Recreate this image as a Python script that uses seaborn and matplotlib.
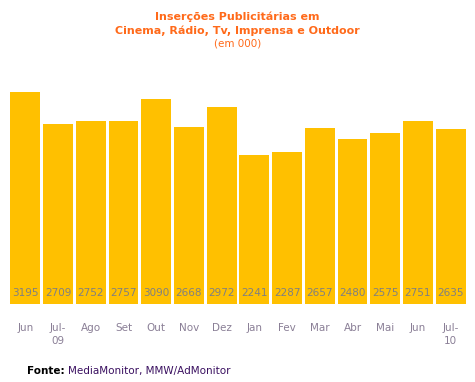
import numpy as np
import pandas as pd
import matplotlib
matplotlib.use('Agg')
import matplotlib.pyplot as plt
import seaborn as sns

# Données
meses = ['Jun', 'Jul-\n09', 'Ago', 'Set', 'Out', 'Nov', 'Dez', 'Jan', 'Fev', 'Mar', 'Abr', 'Mai', 'Jun', 'Jul-\n10']
insercoes = [3195, 2709, 2752, 2757, 3090, 2668, 2972, 2241, 2287, 2657, 2480, 2575, 2751, 2635]

df = pd.DataFrame({'pos': range(len(meses)), 'valor': insercoes})

sns.set_theme(style='white')
plt.rcParams['font.family'] = ['DejaVu Sans']

fig = plt.figure(figsize=(4.75, 3.82), dpi=100)
ax = fig.add_axes([9 / 475, 1 - 304 / 382, 458 / 475, 224 / 382])

sns.barplot(data=df, x='pos', y='valor', color='#FFC000', saturation=1,
            width=0.91, linewidth=0, ax=ax)

for i, v in enumerate(insercoes):
    ax.text(i, 3195 * 11 / 212, str(v), ha='center', va='center',
            fontsize=7.5, color='#808080')

ax.set_ylim(0, 3195 * 224 / 212)
ax.set_xlim(-0.5, len(meses) - 0.5)
ax.set_yticks([])
ax.set_xticks(range(len(meses)))
ax.set_xticklabels(meses, fontsize=7.5, color='#8a7f96', linespacing=1.3)
ax.tick_params(axis='x', length=0, pad=14)
ax.set_xlabel('')
ax.set_ylabel('')
for s in ax.spines.values():
    s.set_visible(False)

# Titre
fig.text(0.5, 1 - 17 / 382, 'Inserções Publicitárias em', ha='center', va='center',
         fontsize=8, fontweight='bold', color='#FF6A1A')
fig.text(0.5, 1 - 31 / 382, 'Cinema, Rádio, Tv, Imprensa e Outdoor', ha='center', va='center',
         fontsize=8, fontweight='bold', color='#FF6A1A')
fig.text(0.5, 1 - 44 / 382, '(em 000)', ha='center', va='center',
         fontsize=7.5, color='#FF6A1A')

# Source
fig.text(27 / 475, 1 - 371 / 382, 'Fonte:', ha='left', va='center',
         fontsize=7.5, fontweight='bold', color='black')
fig.text(68 / 475, 1 - 371 / 382, 'MediaMonitor, MMW/AdMonitor', ha='left', va='center',
         fontsize=7.5, color='#3a1060')

fig.savefig('out.png', dpi=100)
